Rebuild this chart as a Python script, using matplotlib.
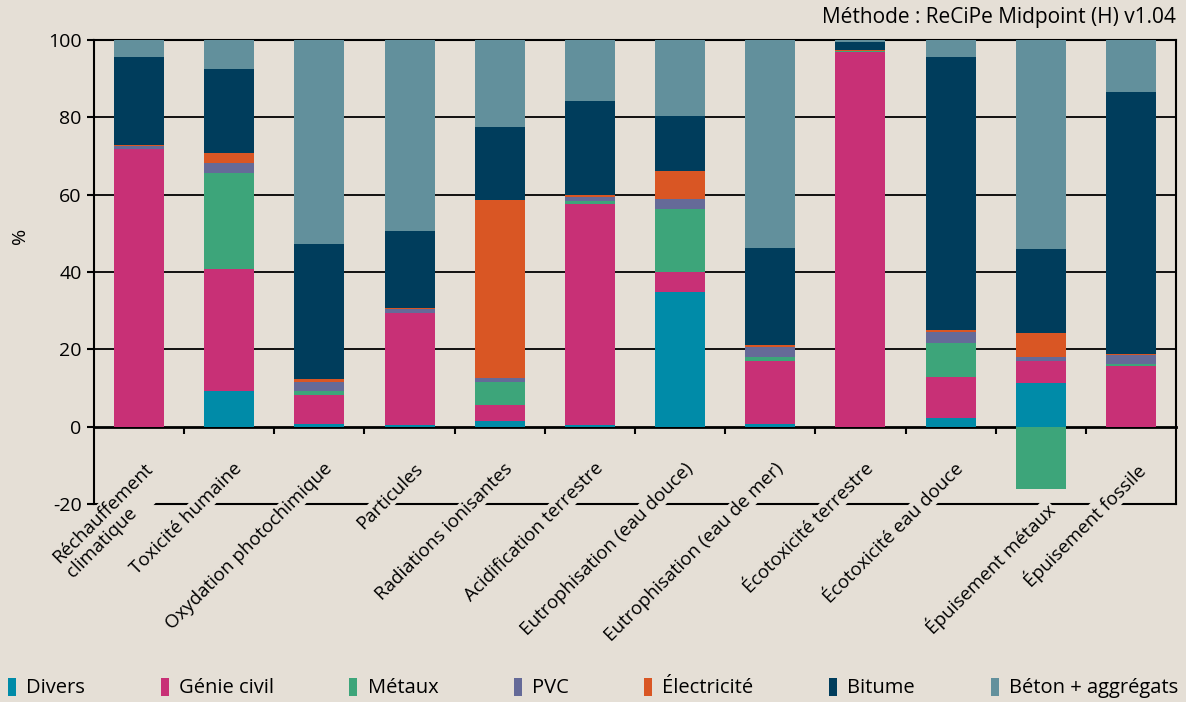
import numpy as np
import matplotlib
matplotlib.use('Agg')
import matplotlib.pyplot as plt
from matplotlib.patches import Patch

plt.rcParams['font.family'] = ['Open Sans', 'DejaVu Sans']

categories = ['Réchauffement\nclimatique', 'Toxicité humaine', 'Oxydation photochimique',
              'Particules', 'Radiations ionisantes', 'Acidification terrestre',
              'Eutrophisation (eau douce)', 'Eutrophisation (eau de mer)',
              'Écotoxicité terrestre', 'Écotoxicité eau douce',
              'Épuisement métaux', 'Épuisement fossile']

series_names = ['Divers', 'Génie civil', 'Métaux', 'PVC', 'Électricité', 'Bitume', 'Béton + aggrégats']

divers = [0, 9.1, 0.6, 0.5, 1.5, 0.5, 34.7, 0.6, 0, 2.2, 11.2, 0]
genie = [71.8, 31.6, 7.6, 28.8, 4.0, 57.2, 5.2, 16.5, 97.0, 10.6, 5.8, 15.7]
metaux = [0, 24.8, 0.9, 0, 6.0, 0.6, 16.5, 1.0, 0.1, 8.9, -16.2, 0.6]
pvc = [0.8, 2.7, 2.4, 1.2, 1.0, 1.0, 2.4, 2.6, 0.1, 2.7, 0.9, 2.2]
elec = [0.3, 2.7, 0.8, 0.2, 46.1, 0.5, 7.4, 0.5, 0.1, 0.6, 6.3, 0.2]
bitume = [22.8, 21.6, 34.9, 19.8, 18.9, 24.4, 14.1, 24.9, 2.1, 70.7, 21.8, 67.9]
beton = [4.3, 7.5, 52.8, 49.5, 22.5, 15.8, 19.7, 53.9, 0.6, 4.3, 54.0, 13.4]

colors = ['#008ba8', '#c83076', '#3da57a', '#656a98', '#d95624', '#003d5c', '#62909c']
bg = '#e5dfd6'

fig = plt.figure(figsize=(11.86, 7.02), dpi=100, facecolor=bg)
ax = fig.add_axes([94 / 1186, 1 - 504 / 702, 1082 / 1186, 464 / 702])
ax.set_facecolor(bg)

x = np.arange(len(categories))
pos_bottom = np.zeros(len(categories))
neg_bottom = np.zeros(len(categories))
for vals, col, name in zip([divers, genie, metaux, pvc, elec, bitume, beton], colors, series_names):
    v = np.array(vals, dtype=float)
    b = np.where(v >= 0, pos_bottom, neg_bottom)
    ax.bar(x, v, width=0.555, bottom=b, color=col, linewidth=0, zorder=3, label=name)
    pos_bottom += np.where(v >= 0, v, 0)
    neg_bottom += np.where(v < 0, v, 0)

ax.set_xlim(-0.5, len(categories) - 0.5)
ax.set_ylim(-20, 100)
ax.set_yticks([-20, 0, 20, 40, 60, 80, 100])
ax.set_yticklabels(['-20', '0', '20', '40', '60', '80', '100'], fontsize=14)
ax.tick_params(axis='y', length=5, width=1.5, direction='out', pad=4)
for yv in [20, 40, 60, 80]:
    ax.axhline(yv, color='black', lw=1.3, zorder=1)

# x axis at zero, frame line at -20
ax.spines['bottom'].set_position(('data', 0))
ax.spines['bottom'].set_linewidth(2)
ax.axhline(-20, color='black', lw=1.5, zorder=1, clip_on=False)
for s in ['left', 'right', 'top']:
    ax.spines[s].set_linewidth(1.5)
ax.set_xticks(x)
ax.set_xticklabels([])
ax.tick_params(axis='x', which='major', length=0)
ax.set_xticks(np.arange(0.5, len(categories) - 0.5, 1), minor=True)
ax.tick_params(axis='x', which='minor', length=5, width=1.5, direction='out')

# rotated category labels, pushed below any negative bar
for i, lab in enumerate(categories):
    ly = min(-8.5, neg_bottom[i] - 2.5)
    ax.text(i + 0.045, ly, lab, rotation=45, ha='right', va='top', rotation_mode='anchor',
            multialignment='left', fontsize=13.5, zorder=2, clip_on=False,
            bbox=dict(facecolor=bg, edgecolor='none', pad=0.5))

fig.text(20 / 1186, 1 - 236 / 702, '%', rotation=90, ha='center', va='center', fontsize=14)
fig.text(1176 / 1186, 1 - 17 / 702, 'Méthode : ReCiPe Midpoint (H) v1.04', ha='right', va='center', fontsize=15)

handles = [Patch(facecolor=c, edgecolor='none') for c in colors]
fig.legend(handles, series_names, loc='center', bbox_to_anchor=(8 / 1186, 1 - 700 / 702, 1170 / 1186, 24 / 702),
           ncol=7, mode='expand', frameon=False, fontsize=14.5, handlelength=0.4, handleheight=1.0,
           handletextpad=0.5, borderaxespad=0, borderpad=0)

fig.savefig('out.png', dpi=100, facecolor=bg)
